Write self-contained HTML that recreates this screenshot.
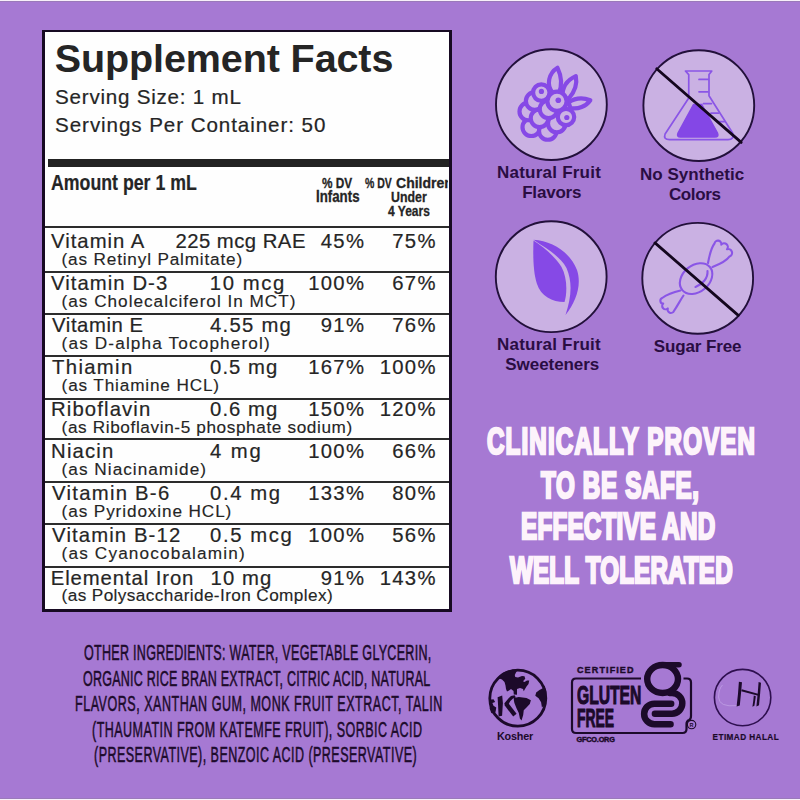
<!DOCTYPE html>
<html><head><meta charset="utf-8"><style>
html,body{margin:0;padding:0;}
body{width:800px;height:800px;overflow:hidden;position:relative;background:#A679D3;font-family:'Liberation Sans';}
.t{position:absolute;white-space:nowrap;transform-origin:0 0;}
#box{position:absolute;left:42px;top:30px;width:409.5px;height:581.5px;box-sizing:border-box;border:3px solid #170a22;border-top-width:2.8px;background:#fefefe;overflow:hidden;}
.ln{position:absolute;left:0;right:0;height:2px;background:#2c2c2c;}
svg{position:absolute;left:0;top:0;}
</style></head><body>
<div style="position:absolute;left:0;top:0;width:800px;height:1px;background:#f7eff9"></div>
<div style="position:absolute;left:0;top:1px;width:800px;height:1px;background:#9a79b9"></div>
<div style="position:absolute;left:0;top:798px;width:800px;height:1px;background:#9a7aba"></div>
<div style="position:absolute;left:0;top:799px;width:800px;height:1px;background:#f7eff9"></div>
<div id="box">
<div style="position:absolute;left:2.75px;right:0;top:126.7px;height:8px;background:#222;"></div>
<div class="ln" style="top:193.7px"></div>
<div class="ln" style="top:239.2px"></div>
<div class="ln" style="top:280.7px"></div>
<div class="ln" style="top:323.2px"></div>
<div class="ln" style="top:365.7px"></div>
<div class="ln" style="top:406.2px"></div>
<div class="ln" style="top:449.2px"></div>
<div class="ln" style="top:490.7px"></div>
<div class="ln" style="top:534.2px"></div>
</div>

<svg width="800" height="800" viewBox="0 0 800 800">
<g fill="#CAB1E3" stroke="#22103a" stroke-width="1.9">
<circle cx="551.4" cy="104.6" r="55.4"/>
<circle cx="698.8" cy="105.6" r="55.4"/>
<circle cx="551.2" cy="276.7" r="55.4"/>
<circle cx="697.7" cy="278.3" r="55.4"/>
</g>
<!-- raspberry -->
<g fill="#CBB2E4" stroke="#8649E6" stroke-width="4.20" stroke-linejoin="round">
<path d="M553 93 C545.5 85 549 73 557.5 67.8 C561 75 562.5 84 559 93 Z"/>
<path d="M562.5 97 C562 87 567.5 80 575.8 76.2 C577.5 84 574.5 92 568.5 99 Z"/>
<path d="M568.5 102.5 C575 98 583 97.5 590.3 100.2 C586 106.5 578 109.5 570.5 108 Z"/>
<circle cx="531.30" cy="127.20" r="8.80"/>
<circle cx="547.80" cy="130.95" r="8.80"/>
<circle cx="528.30" cy="111.45" r="8.80"/>
<circle cx="539.55" cy="118.20" r="8.80"/>
<circle cx="556.80" cy="123.45" r="8.80"/>
<circle cx="534.70" cy="100.95" r="8.80"/>
<circle cx="548.55" cy="109.20" r="8.80"/>
<circle cx="541.3" cy="92.6" r="8.20"/>
<circle cx="566" cy="117" r="8.20"/>
<circle cx="557" cy="101.3" r="9.60"/>
</g>
<g fill="#8649E6"><circle cx="541.4" cy="91.4" r="2.6"/><circle cx="558.3" cy="100.3" r="2.8"/><circle cx="566.8" cy="117.5" r="2.6"/></g>
<!-- flask -->
<g fill="none" stroke="#8A55E6" stroke-width="1.7" stroke-linejoin="round" stroke-linecap="round">
<path d="M685.4 71 L711.8 71 L709 74.6 L709 95.8 L732.6 133 Q734.5 139.6 728 139.6 L669.6 139.6 Q663 139.6 665.1 134 L688.75 98 L688.75 74.6 Z"/>
<path d="M699 79.4 L708 79.4 M699 91.8 L708 91.8 M703.4 103.6 L711.5 103.6 M711 113.2 L718.5 113.2 M717 121.6 L724.5 121.6"/>
</g>
<path d="M693.5 104.5 L701.8 104.5 L717.5 133 Q719 137 715 137 L680.5 137 Q676.5 137 678 133 Z" fill="#8447E6" stroke="#8447E6" stroke-width="1.5" stroke-linejoin="round"/>
<line x1="656.7" y1="68.8" x2="741.2" y2="142.4" stroke="#14061e" stroke-width="2.8" stroke-linecap="round"/>
<!-- leaf -->
<g fill="#8649E6">
<path d="M533.5 239.8 C552 241 570 252 577 270 C582 285 576 302 565.5 315 C571 298 573 283 566.5 268 C560 256 547 249 533.5 239.8 Z"/>
<path d="M533.5 240.5 C545 248 556 258 561.5 267 C567 277 567.5 292 564.5 302 C552 302 541 296 537 284 C533 272 533 255 533.5 240.5 Z"/>
</g>
<!-- candy -->
<g fill="none" stroke="#8A55E6" stroke-width="2.1" stroke-linejoin="round" stroke-linecap="round">
<ellipse cx="696.1" cy="278.6" rx="18" ry="13.3" transform="rotate(-40 696.1 278.6)"/>
<path d="M708 263 C709.5 255 711 248 714.5 243.5 A3.3 3.3 0 0 1 721.3 244.6 A2.9 2.9 0 0 1 727 249.3 A2.9 2.9 0 0 1 729.6 256.4 C726 261.5 719 264.5 712.5 267"/>
<path d="M680.5 290.5 C674 292 667 294.5 662.2 298 A2.9 2.9 0 0 0 663.2 303.6 A2.9 2.9 0 0 0 667.8 308.4 A3.3 3.3 0 0 0 674 310.8 C677.5 306 680 300.5 683.5 295.5"/>
<path d="M707.5 271 C708 278 703 284 695.5 287"/>
</g>
<line x1="655" y1="242.9" x2="738.3" y2="315.4" stroke="#14061e" stroke-width="2.8" stroke-linecap="round"/>

<!-- kosher -->
<circle cx="517.8" cy="698.2" r="28" fill="none" stroke="#1c0a2a" stroke-width="2.8"/>
<g fill="#1c0a2a">
<path d="M498 678 L502 679.5 L504.5 682 L505.5 685.5 L506 689 L507 691.5 L509 690.5 L511 689 L513.5 691 L513.8 694.5 L517 694.8 L517 689 L520 688 L523 689 L523.75 691.25 L525 689 L526.5 686.5 L528.5 684 L529.25 680.5 L527 680.5 L524.5 682 L523 681.25 L525.25 678.75 L524.5 676.25 L522 676 L518 677.5 L515.25 677 L514.75 675 L516 672.5 L517.5 670 L513 669.5 L507 671 L502 673.5 Z"/>
<path d="M513.85 698.05 L518.8 696.95 L526.5 698.05 L530.9 700.25 L529.8 704.1 L526.5 707.4 L523.75 710.15 L523.2 715.1 L521.55 720.6 L519.9 718.4 L518.8 712.9 L516.6 708.5 L514.4 703 L513.85 700.25 Z"/>
<path d="M536.15 692.4 L539.45 689.9 L542.75 688.3 L544.4 685.5 L546.3 690.75 L546.6 699 L544.4 705.6 L541.9 707.25 L541.1 702.3 L538.6 698.2 L535.3 695.7 Z"/>
<path d="M490.2 699.7 L493.5 699.15 L495.15 701.9 L492.4 703 L493.5 705.75 L496.25 707.4 L495.7 711.25 L494.6 714 L491.3 712.9 L489.65 708.5 Z"/>
<path d="M497.6 697.2 L502.2 695.6 L502.9 703 L502.1 715.8 L498.6 716.5 L498.1 705.75 Z"/>
<path d="M504.2 703.6 L508.6 698.2 L511 695.9 L514.6 695.3 L515.9 697.6 L513 698.6 L510.4 701 L507 706.6 Z"/>
<path d="M504.2 704.8 L507.9 702.6 L516.6 713.8 L513.2 716.6 Z"/>
</g>
<!-- gluten free -->
<path d="M641 678.5 L576 678.5 Q572 678.5 572 682.5 L572 729 Q572 733 576 733 L682.5 733 Q686.5 733 686.5 729 L686.5 724 Q686.5 721 689 720 Q691 719 691 716 L691 682.5 Q691 678.5 687 678.5 L683.5 678.5" fill="none" stroke="#1c0a2a" stroke-width="2.2"/>
<g fill="none" stroke="#1c0a2a" stroke-width="6.5" stroke-linecap="round">
<ellipse cx="662.6" cy="679" rx="15.4" ry="13.95" stroke-width="6.4"/>
<path d="M664 664.8 L679 664.8" stroke-width="5.5"/>
<path d="M670 692.9 L672 693.05 A10.3 10.3 0 0 1 672 713.65 L654.9 713.65"/>
<path d="M671.15 703.65 L654.4 703.65 A10.25 10.25 0 0 0 654.4 724.15 L670.55 724.15"/>
</g>
<circle cx="691.6" cy="724.6" r="4.2" fill="none" stroke="#1c0a2a" stroke-width="1.1"/>
<text x="689.6" y="726.6" font-family="Liberation Sans" font-weight="700" font-size="5.5" fill="#1c0a2a">R</text>
<!-- halal -->
<circle cx="742.6" cy="697.6" r="28.2" fill="none" stroke="#2e0f4f" stroke-width="1.6"/>
<path d="M737.2 705.6 Q718.5 707.5 718.6 697 Q718.8 688.5 722.5 685" fill="none" stroke="#bb98e2" stroke-width="1"/>
<g fill="#1c0a2a">
<path d="M738.9 681.7 L742 682.3 Q741 694 739.8 705.4 L736.6 706.6 Q738.2 694 738.9 681.7 Z"/>
<path d="M758.6 682 L761 682.8 Q760.2 694 759 705.2 L756.4 706.4 Q757.8 694 758.6 682 Z"/>
<path d="M753.8 695.5 L755.8 696.2 Q755.2 701 754.4 705.8 L752.4 706.8 Q753.4 701 753.8 695.5 Z"/>
</g>
<path d="M741.5 690.2 L758.5 694.9" stroke="#1c0a2a" stroke-width="2"/>
</svg>

<div class="t" style="left:54.75px;top:38.96px;font:700 39.5px/39.5px 'Liberation Sans';color:#252525;letter-spacing:-0.106px;">Supplement Facts</div>
<div class="t" style="left:55.10px;top:86.96px;font:400 20.6px/20.6px 'Liberation Sans';color:#252525;letter-spacing:0.760px;-webkit-text-stroke:0.2px #252525;">Serving Size: 1 mL</div>
<div class="t" style="left:55.10px;top:115.21px;font:400 20.6px/20.6px 'Liberation Sans';color:#252525;letter-spacing:0.920px;-webkit-text-stroke:0.2px #252525;">Servings Per Container: 50</div>
<div class="t" style="left:50.58px;top:173.20px;font:700 21.5px/21.5px 'Liberation Sans';color:#252525;transform:scaleX(0.8250);-webkit-text-stroke:0.2px #252525;">Amount per 1 mL</div>
<div class="t" style="left:322.22px;top:175.48px;font:700 15.2px/15.2px 'Liberation Sans';color:#252525;transform:scaleX(0.7777);-webkit-text-stroke:0.3px #252525;">% DV</div>
<div class="t" style="left:315.68px;top:189.04px;font:700 15.6px/15.6px 'Liberation Sans';color:#252525;transform:scaleX(0.8514);-webkit-text-stroke:0.3px #252525;">Infants</div>
<div class="t" style="left:365.30px;top:175.48px;font:700 15.2px/15.2px 'Liberation Sans';color:#252525;transform:scaleX(0.6901);-webkit-text-stroke:0.3px #252525;">% DV</div>
<div style="position:absolute;left:0;top:0;width:448px;height:800px;overflow:hidden"><div class="t" style="left:395.74px;top:175.48px;font:700 15.2px/15.2px 'Liberation Sans';color:#252525;transform:scaleX(0.9234);-webkit-text-stroke:0.3px #252525;">Children</div></div>
<div class="t" style="left:391.02px;top:189.08px;font:700 15.2px/15.2px 'Liberation Sans';color:#252525;transform:scaleX(0.8132);-webkit-text-stroke:0.3px #252525;">Under</div>
<div class="t" style="left:388.02px;top:202.58px;font:700 15.2px/15.2px 'Liberation Sans';color:#252525;transform:scaleX(0.7915);-webkit-text-stroke:0.3px #252525;">4 Years</div>
<div class="t" style="left:51.10px;top:231.02px;font:400 20.3px/20.3px 'Liberation Sans';color:#252525;letter-spacing:0.988px;-webkit-text-stroke:0.2px #252525;">Vitamin A</div>
<div class="t" style="left:175.40px;top:231.02px;font:400 20.3px/20.3px 'Liberation Sans';color:#252525;letter-spacing:0.490px;-webkit-text-stroke:0.2px #252525;">225 mcg RAE</div>
<div class="t" style="left:320.74px;top:231.02px;font:400 20.3px/20.3px 'Liberation Sans';color:#252525;letter-spacing:1.300px;-webkit-text-stroke:0.2px #252525;">45%</div>
<div class="t" style="left:392.24px;top:231.02px;font:400 20.3px/20.3px 'Liberation Sans';color:#252525;letter-spacing:1.300px;-webkit-text-stroke:0.2px #252525;">75%</div>
<div class="t" style="left:61.58px;top:250.97px;font:400 17.2px/17.2px 'Liberation Sans';color:#252525;letter-spacing:0.821px;-webkit-text-stroke:0.15px #252525;">(as Retinyl Palmitate)</div>
<div class="t" style="left:51.10px;top:273.22px;font:400 20.3px/20.3px 'Liberation Sans';color:#252525;letter-spacing:1.050px;-webkit-text-stroke:0.2px #252525;">Vitamin D-3</div>
<div class="t" style="left:209.80px;top:273.22px;font:400 20.3px/20.3px 'Liberation Sans';color:#252525;letter-spacing:1.614px;-webkit-text-stroke:0.2px #252525;">10 mcg</div>
<div class="t" style="left:308.16px;top:273.22px;font:400 20.3px/20.3px 'Liberation Sans';color:#252525;letter-spacing:1.300px;-webkit-text-stroke:0.2px #252525;">100%</div>
<div class="t" style="left:392.24px;top:273.22px;font:400 20.3px/20.3px 'Liberation Sans';color:#252525;letter-spacing:1.300px;-webkit-text-stroke:0.2px #252525;">67%</div>
<div class="t" style="left:61.58px;top:293.17px;font:400 17.2px/17.2px 'Liberation Sans';color:#252525;letter-spacing:0.987px;-webkit-text-stroke:0.15px #252525;">(as Cholecalciferol In MCT)</div>
<div class="t" style="left:52.10px;top:314.72px;font:400 20.3px/20.3px 'Liberation Sans';color:#252525;letter-spacing:0.563px;-webkit-text-stroke:0.2px #252525;">Vitamin E</div>
<div class="t" style="left:210.10px;top:314.72px;font:400 20.3px/20.3px 'Liberation Sans';color:#252525;letter-spacing:1.250px;-webkit-text-stroke:0.2px #252525;">4.55 mg</div>
<div class="t" style="left:320.74px;top:314.72px;font:400 20.3px/20.3px 'Liberation Sans';color:#252525;letter-spacing:1.300px;-webkit-text-stroke:0.2px #252525;">91%</div>
<div class="t" style="left:392.24px;top:314.72px;font:400 20.3px/20.3px 'Liberation Sans';color:#252525;letter-spacing:1.300px;-webkit-text-stroke:0.2px #252525;">76%</div>
<div class="t" style="left:61.58px;top:334.67px;font:400 17.2px/17.2px 'Liberation Sans';color:#252525;letter-spacing:1.139px;-webkit-text-stroke:0.15px #252525;">(as D-alpha Tocopherol)</div>
<div class="t" style="left:52.10px;top:356.92px;font:400 20.3px/20.3px 'Liberation Sans';color:#252525;letter-spacing:1.324px;-webkit-text-stroke:0.2px #252525;">Thiamin</div>
<div class="t" style="left:210.10px;top:356.92px;font:400 20.3px/20.3px 'Liberation Sans';color:#252525;letter-spacing:1.015px;-webkit-text-stroke:0.2px #252525;">0.5 mg</div>
<div class="t" style="left:308.16px;top:356.92px;font:400 20.3px/20.3px 'Liberation Sans';color:#252525;letter-spacing:1.300px;-webkit-text-stroke:0.2px #252525;">167%</div>
<div class="t" style="left:379.66px;top:356.92px;font:400 20.3px/20.3px 'Liberation Sans';color:#252525;letter-spacing:1.300px;-webkit-text-stroke:0.2px #252525;">100%</div>
<div class="t" style="left:61.58px;top:376.87px;font:400 17.2px/17.2px 'Liberation Sans';color:#252525;letter-spacing:0.847px;-webkit-text-stroke:0.15px #252525;">(as Thiamine HCL)</div>
<div class="t" style="left:51.10px;top:399.12px;font:400 20.3px/20.3px 'Liberation Sans';color:#252525;letter-spacing:1.114px;-webkit-text-stroke:0.2px #252525;">Riboflavin</div>
<div class="t" style="left:210.10px;top:399.12px;font:400 20.3px/20.3px 'Liberation Sans';color:#252525;letter-spacing:1.015px;-webkit-text-stroke:0.2px #252525;">0.6 mg</div>
<div class="t" style="left:308.16px;top:399.12px;font:400 20.3px/20.3px 'Liberation Sans';color:#252525;letter-spacing:1.300px;-webkit-text-stroke:0.2px #252525;">150%</div>
<div class="t" style="left:379.66px;top:399.12px;font:400 20.3px/20.3px 'Liberation Sans';color:#252525;letter-spacing:1.300px;-webkit-text-stroke:0.2px #252525;">120%</div>
<div class="t" style="left:61.58px;top:419.07px;font:400 17.2px/17.2px 'Liberation Sans';color:#252525;letter-spacing:0.615px;-webkit-text-stroke:0.15px #252525;">(as Riboflavin-5 phosphate sodium)</div>
<div class="t" style="left:51.10px;top:441.22px;font:400 20.3px/20.3px 'Liberation Sans';color:#252525;letter-spacing:1.144px;-webkit-text-stroke:0.2px #252525;">Niacin</div>
<div class="t" style="left:210.10px;top:441.22px;font:400 20.3px/20.3px 'Liberation Sans';color:#252525;letter-spacing:1.897px;-webkit-text-stroke:0.2px #252525;">4 mg</div>
<div class="t" style="left:308.16px;top:441.22px;font:400 20.3px/20.3px 'Liberation Sans';color:#252525;letter-spacing:1.300px;-webkit-text-stroke:0.2px #252525;">100%</div>
<div class="t" style="left:392.24px;top:441.22px;font:400 20.3px/20.3px 'Liberation Sans';color:#252525;letter-spacing:1.300px;-webkit-text-stroke:0.2px #252525;">66%</div>
<div class="t" style="left:61.58px;top:461.17px;font:400 17.2px/17.2px 'Liberation Sans';color:#252525;letter-spacing:1.028px;-webkit-text-stroke:0.15px #252525;">(as Niacinamide)</div>
<div class="t" style="left:52.10px;top:482.62px;font:400 20.3px/20.3px 'Liberation Sans';color:#252525;letter-spacing:1.262px;-webkit-text-stroke:0.2px #252525;">Vitamin B-6</div>
<div class="t" style="left:210.10px;top:482.62px;font:400 20.3px/20.3px 'Liberation Sans';color:#252525;letter-spacing:1.595px;-webkit-text-stroke:0.2px #252525;">0.4 mg</div>
<div class="t" style="left:308.16px;top:482.62px;font:400 20.3px/20.3px 'Liberation Sans';color:#252525;letter-spacing:1.300px;-webkit-text-stroke:0.2px #252525;">133%</div>
<div class="t" style="left:392.24px;top:482.62px;font:400 20.3px/20.3px 'Liberation Sans';color:#252525;letter-spacing:1.300px;-webkit-text-stroke:0.2px #252525;">80%</div>
<div class="t" style="left:61.58px;top:502.57px;font:400 17.2px/17.2px 'Liberation Sans';color:#252525;letter-spacing:0.888px;-webkit-text-stroke:0.15px #252525;">(as Pyridoxine HCL)</div>
<div class="t" style="left:52.10px;top:525.12px;font:400 20.3px/20.3px 'Liberation Sans';color:#252525;letter-spacing:1.122px;-webkit-text-stroke:0.2px #252525;">Vitamin B-12</div>
<div class="t" style="left:210.10px;top:525.12px;font:400 20.3px/20.3px 'Liberation Sans';color:#252525;letter-spacing:1.573px;-webkit-text-stroke:0.2px #252525;">0.5 mcg</div>
<div class="t" style="left:308.16px;top:525.12px;font:400 20.3px/20.3px 'Liberation Sans';color:#252525;letter-spacing:1.300px;-webkit-text-stroke:0.2px #252525;">100%</div>
<div class="t" style="left:392.24px;top:525.12px;font:400 20.3px/20.3px 'Liberation Sans';color:#252525;letter-spacing:1.300px;-webkit-text-stroke:0.2px #252525;">56%</div>
<div class="t" style="left:61.58px;top:545.07px;font:400 17.2px/17.2px 'Liberation Sans';color:#252525;letter-spacing:1.149px;-webkit-text-stroke:0.15px #252525;">(as Cyanocobalamin)</div>
<div class="t" style="left:50.70px;top:567.52px;font:400 20.3px/20.3px 'Liberation Sans';color:#252525;letter-spacing:0.916px;-webkit-text-stroke:0.2px #252525;">Elemental Iron</div>
<div class="t" style="left:210.60px;top:567.52px;font:400 20.3px/20.3px 'Liberation Sans';color:#252525;letter-spacing:1.053px;-webkit-text-stroke:0.2px #252525;">10 mg</div>
<div class="t" style="left:320.74px;top:567.52px;font:400 20.3px/20.3px 'Liberation Sans';color:#252525;letter-spacing:1.300px;-webkit-text-stroke:0.2px #252525;">91%</div>
<div class="t" style="left:379.66px;top:567.52px;font:400 20.3px/20.3px 'Liberation Sans';color:#252525;letter-spacing:1.300px;-webkit-text-stroke:0.2px #252525;">143%</div>
<div class="t" style="left:61.58px;top:587.47px;font:400 17.2px/17.2px 'Liberation Sans';color:#252525;letter-spacing:0.394px;-webkit-text-stroke:0.15px #252525;">(as Polysaccharide-Iron Complex)</div>
<div class="t" style="left:497.00px;top:164.41px;font:700 17px/17px 'Liberation Sans';color:#2a0d42;letter-spacing:0.233px;">Natural Fruit</div>
<div class="t" style="left:522.20px;top:184.41px;font:700 17px/17px 'Liberation Sans';color:#2a0d42;letter-spacing:-0.203px;">Flavors</div>
<div class="t" style="left:639.90px;top:166.11px;font:700 17px/17px 'Liberation Sans';color:#2a0d42;letter-spacing:0.041px;">No Synthetic</div>
<div class="t" style="left:668.90px;top:185.91px;font:700 17px/17px 'Liberation Sans';color:#2a0d42;letter-spacing:-0.357px;">Colors</div>
<div class="t" style="left:497.00px;top:336.31px;font:700 17px/17px 'Liberation Sans';color:#2a0d42;letter-spacing:0.217px;">Natural Fruit</div>
<div class="t" style="left:505.30px;top:356.11px;font:700 17px/17px 'Liberation Sans';color:#2a0d42;letter-spacing:-0.060px;">Sweeteners</div>
<div class="t" style="left:653.80px;top:337.61px;font:700 17px/17px 'Liberation Sans';color:#2a0d42;letter-spacing:-0.128px;">Sugar Free</div>
<div class="t" style="left:486.73px;top:422.91px;font:700 37.2px/37.2px 'Liberation Sans';color:#fdf3fb;letter-spacing:1.755px;transform:scaleX(0.6500);-webkit-text-stroke:2.7px #fdf3fb;">CLINICALLY PROVEN</div>
<div class="t" style="left:541.48px;top:466.76px;font:700 37.2px/37.2px 'Liberation Sans';color:#fdf3fb;letter-spacing:1.037px;transform:scaleX(0.6500);-webkit-text-stroke:2.7px #fdf3fb;">TO BE SAFE,</div>
<div class="t" style="left:520.68px;top:508.41px;font:700 37.2px/37.2px 'Liberation Sans';color:#fdf3fb;letter-spacing:0.392px;transform:scaleX(0.6500);-webkit-text-stroke:2.7px #fdf3fb;">EFFECTIVE AND</div>
<div class="t" style="left:509.98px;top:551.66px;font:700 37.2px/37.2px 'Liberation Sans';color:#fdf3fb;letter-spacing:0.283px;transform:scaleX(0.6500);-webkit-text-stroke:2.7px #fdf3fb;">WELL TOLERATED</div>
<div class="t" style="left:84.45px;top:641.30px;font:400 22.8px/22.8px 'Liberation Sans';color:#1d0b2c;letter-spacing:0.523px;transform:scaleX(0.5500);-webkit-text-stroke:0.55px #1d0b2c;">OTHER INGREDIENTS: WATER, VEGETABLE GLYCERIN,</div>
<div class="t" style="left:83.45px;top:666.70px;font:400 22.8px/22.8px 'Liberation Sans';color:#1d0b2c;letter-spacing:0.406px;transform:scaleX(0.5500);-webkit-text-stroke:0.55px #1d0b2c;">ORGANIC RICE BRAN EXTRACT, CITRIC ACID, NATURAL</div>
<div class="t" style="left:75.45px;top:692.10px;font:400 22.8px/22.8px 'Liberation Sans';color:#1d0b2c;letter-spacing:0.928px;transform:scaleX(0.5500);-webkit-text-stroke:0.55px #1d0b2c;">FLAVORS, XANTHAN GUM, MONK FRUIT EXTRACT, TALIN</div>
<div class="t" style="left:91.95px;top:717.90px;font:400 22.8px/22.8px 'Liberation Sans';color:#1d0b2c;letter-spacing:0.832px;transform:scaleX(0.5500);-webkit-text-stroke:0.55px #1d0b2c;">(THAUMATIN FROM KATEMFE FRUIT), SORBIC ACID</div>
<div class="t" style="left:94.45px;top:743.20px;font:400 22.8px/22.8px 'Liberation Sans';color:#1d0b2c;letter-spacing:0.819px;transform:scaleX(0.5500);-webkit-text-stroke:0.55px #1d0b2c;">(PRESERVATIVE), BENZOIC ACID (PRESERVATIVE)</div>
<div class="t" style="left:496.90px;top:730.76px;font:700 10.8px/10.8px 'Liberation Sans';color:#1c0a2a;letter-spacing:-0.179px;">Kosher</div>
<div class="t" style="left:577.00px;top:666.08px;font:700 9.0px/9.0px 'Liberation Sans';color:#1c0a2a;letter-spacing:1.125px;-webkit-text-stroke:0.4px #1c0a2a;">CERTIFIED</div>
<div class="t" style="left:577.10px;top:681.99px;font:700 26px/26px 'Liberation Sans';color:#1c0a2a;transform:scaleX(0.6023);-webkit-text-stroke:1.1px #1c0a2a;">GLUTEN</div>
<div class="t" style="left:577.17px;top:704.69px;font:700 26px/26px 'Liberation Sans';color:#1c0a2a;transform:scaleX(0.5338);-webkit-text-stroke:1.1px #1c0a2a;">FREE</div>
<div class="t" style="left:576.62px;top:735.80px;font:700 7.3px/7.3px 'Liberation Sans';color:#1c0a2a;letter-spacing:-0.214px;-webkit-text-stroke:0.45px #1c0a2a;">GFCO.ORG</div>
<div class="t" style="left:712.60px;top:733.56px;font:700 8.2px/8.2px 'Liberation Sans';color:#1c0a2a;letter-spacing:0.423px;-webkit-text-stroke:0.2px #1c0a2a;">ETIMAD HALAL</div>
</body></html>
